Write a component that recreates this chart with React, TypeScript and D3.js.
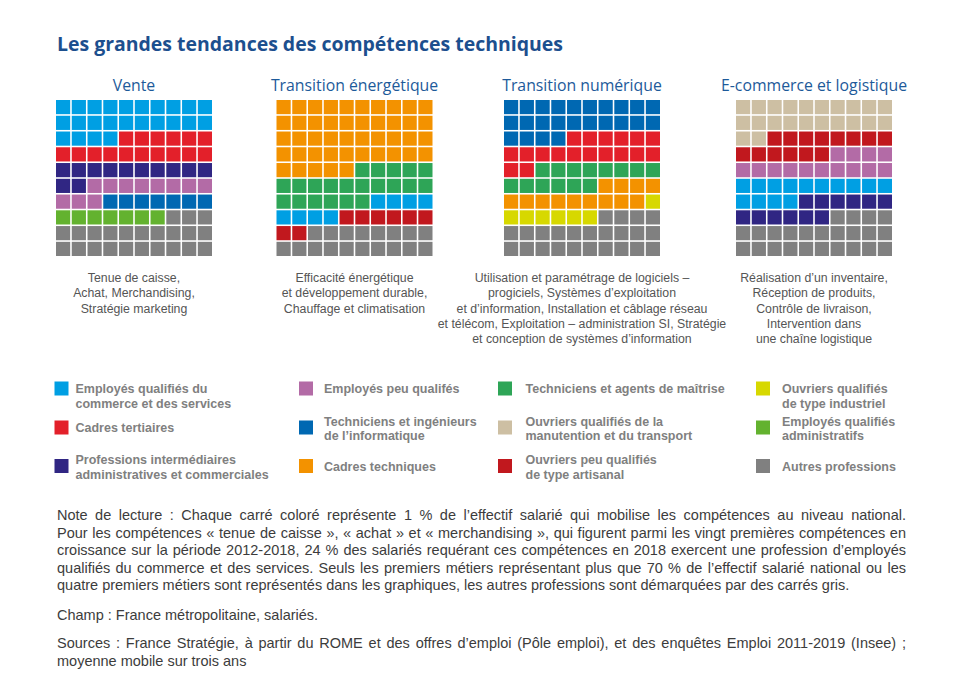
import React, { useEffect, useRef } from "react";
import * as d3 from "d3";

// ---------- DATA ----------
const chartTitle = "Les grandes tendances des compétences techniques";

const categoryKeys = [
  "eqcs", "cadresTert", "profInter",
  "empPeuQ", "techInfo", "cadresTech",
  "techAgents", "ouvrManut", "ouvrPeuQArt",
  "ouvrQIndus", "empAdmin", "autres",
];
const categoryLabels = [
  ["Employés qualifiés du", "commerce et des services"],
  ["Cadres tertiaires"],
  ["Professions intermédiaires", "administratives et commerciales"],
  ["Employés peu qualifés"],
  ["Techniciens et ingénieurs", "de l’informatique"],
  ["Cadres techniques"],
  ["Techniciens et agents de maîtrise"],
  ["Ouvriers qualifiés de la", "manutention et du transport"],
  ["Ouvriers peu qualifiés", "de type artisanal"],
  ["Ouvriers qualifiés", "de type industriel"],
  ["Employés qualifiés", "administratifs"],
  ["Autres professions"],
];
const categoryColors = [
  "#009fe3", "#e3202a", "#302683",
  "#b36ba6", "#0068b2", "#f39200",
  "#2ea557", "#cdbfa3", "#c1181e",
  "#d7d800", "#63b22f", "#808080",
];

const panelTitles = ["Vente", "Transition énergétique", "Transition numérique", "E-commerce et logistique"];
const panelLabels = [
  ["Tenue de caisse,", "Achat, Merchandising,", "Stratégie marketing"],
  ["Efficacité énergétique", "et développement durable,", "Chauffage et climatisation"],
  [
    "Utilisation et paramétrage de logiciels –",
    "progiciels, Systèmes d’exploitation",
    "et d’information, Installation et câblage réseau",
    "et télécom, Exploitation – administration SI, Stratégie",
    "et conception de systèmes d’information",
  ],
  ["Réalisation d’un inventaire,", "Réception de produits,", "Contrôle de livraison,", "Intervention dans", "une chaîne logistique"],
];

const venteCategories = ["eqcs", "cadresTert", "profInter", "empPeuQ", "techInfo", "empAdmin", "autres"];
const venteValues = [24, 16, 12, 11, 7, 7, 23];

const energieCategories = ["cadresTech", "techAgents", "eqcs", "ouvrPeuQArt", "autres"];
const energieValues = [45, 21, 8, 8, 18];

const numeriqueCategories = ["techInfo", "cadresTert", "techAgents", "cadresTech", "ouvrQIndus", "autres"];
const numeriqueValues = [24, 18, 14, 13, 7, 24];

const ecommerceCategories = ["ouvrManut", "ouvrPeuQArt", "empPeuQ", "eqcs", "profInter", "autres"];
const ecommerceValues = [22, 14, 14, 14, 12, 24];

const panelCategories = [venteCategories, energieCategories, numeriqueCategories, ecommerceCategories];
const panelValues = [venteValues, energieValues, numeriqueValues, ecommerceValues];

const noteLines = [
  "Note de lecture : Chaque carré coloré représente 1 % de l’effectif salarié qui mobilise les compétences au niveau national.",
  "Pour les compétences « tenue de caisse », « achat » et « merchandising », qui figurent parmi les vingt premières compétences en",
  "croissance sur la période 2012-2018, 24 % des salariés requérant ces compétences en 2018 exercent une profession d’employés",
  "qualifiés du commerce et des services. Seuls les premiers métiers représentant plus que 70 % de l’effectif salarié national ou les",
  "quatre premiers métiers sont représentés dans les graphiques, les autres professions sont démarquées par des carrés gris.",
];
const champLine = "Champ : France métropolitaine, salariés.";
const sourceLines = [
  "Sources : France Stratégie, à partir du ROME et des offres d’emploi (Pôle emploi), et des enquêtes Emploi 2011-2019 (Insee) ;",
  "moyenne mobile sur trois ans",
];

// ---------- LAYOUT ----------
const W = 960;
const H = 698;
const gridX0 = [56, 276.5, 504, 736];
const gridSize = 156;
const gridTop = 100;
const legendSquareX = [54.5, 299, 498, 756];
const legendTextX = [75.5, 324, 525.5, 782];
const legendRowCenter = [388.5, 427.5, 466];
const textLeft = 57;
const textRight = 906;

const colorScale = d3.scaleOrdinal<string, string>().domain(categoryKeys).range(categoryColors);

function buildCells(cats: string[], vals: number[]) {
  const out: string[] = [];
  cats.forEach((c, i) => {
    for (let k = 0; k < vals[i]; k++) out.push(c);
  });
  return out;
}

export default function App() {
  const noteRef = useRef<SVGGElement>(null);

  useEffect(() => {
    if (!noteRef.current) return;
    d3.select(noteRef.current)
      .selectAll<SVGTextElement, unknown>("text.justify")
      .each(function () {
        const el = this;
        el.setAttribute("word-spacing", "0");
        const len = el.getComputedTextLength();
        const txt = el.textContent || "";
        const spaces = (txt.match(/ /g) || []).length;
        if (spaces > 0) {
          const extra = (textRight - textLeft - len) / spaces;
          el.setAttribute("word-spacing", String(extra));
        }
      });
  }, []);

  const idx = d3.range(10);
  const titleFont = "'Open Sans', 'DejaVu Sans', sans-serif";
  const bodyFont = "'Liberation Sans', Arial, sans-serif";

  return (
    <svg width={W} height={H} style={{ display: "block", position: "absolute", left: 0, top: 0 }}>
      <rect width={W} height={H} fill="#ffffff" />
      <text x={57} y={51} fontFamily={titleFont} fontWeight={700} fontSize={19.5} fill="#1c4f8e"
        textLength={506} lengthAdjust="spacingAndGlyphs">
        {chartTitle}
      </text>

      {panelTitles.map((t, p) => {
        const x = d3.scaleBand<number>().domain(idx).range([gridX0[p], gridX0[p] + gridSize]).paddingInner(0.1);
        const y = d3.scaleBand<number>().domain(idx).range([gridTop, gridTop + gridSize]).paddingInner(0.1);
        const cells = buildCells(panelCategories[p], panelValues[p]);
        const cx = gridX0[p] + gridSize / 2;
        return (
          <g key={t}>
            <text x={cx} y={91} textAnchor="middle" fontFamily={titleFont} fontSize={15.8} fill="#1d5a9a">
              {t}
            </text>
            {cells.map((c, i) => (
              <rect key={i} x={x(i % 10)} y={y(Math.floor(i / 10))} width={x.bandwidth()} height={y.bandwidth()}
                fill={colorScale(c)} />
            ))}
            {panelLabels[p].map((l, j) => (
              <text key={j} x={cx} y={282 + j * 15.3} textAnchor="middle" fontFamily={bodyFont} fontSize={12.3}
                fill="#555555">
                {l}
              </text>
            ))}
          </g>
        );
      })}

      {categoryKeys.map((k, i) => {
        const col = Math.floor(i / 3);
        const row = i % 3;
        const c = legendRowCenter[row];
        const lines = categoryLabels[i];
        const ys = lines.length === 1 ? [c] : row === 0 ? [c, c + 15] : [c - 6.5, c + 8];
        return (
          <g key={k}>
            <rect x={legendSquareX[col]} y={c - 7} width={14} height={14} fill={colorScale(k)} />
            {lines.map((l, j) => (
              <text key={j} x={legendTextX[col]} y={ys[j] + 4.5} fontFamily={bodyFont} fontWeight={700}
                fontSize={12.5} fill="#808080">
                {l}
              </text>
            ))}
          </g>
        );
      })}

      <g ref={noteRef} fontFamily={bodyFont} fontSize={14.5} fill="#3c3c3c">
        {noteLines.map((l, j) => (
          <text key={j} className={j < noteLines.length - 1 ? "justify" : ""} x={textLeft} y={520 + j * 17.6}>
            {l}
          </text>
        ))}
        <text x={textLeft} y={620}>{champLine}</text>
        {sourceLines.map((l, j) => (
          <text key={j} className={j === 0 ? "justify" : ""} x={textLeft} y={648 + j * 17.6}>
            {l}
          </text>
        ))}
      </g>
    </svg>
  );
}
